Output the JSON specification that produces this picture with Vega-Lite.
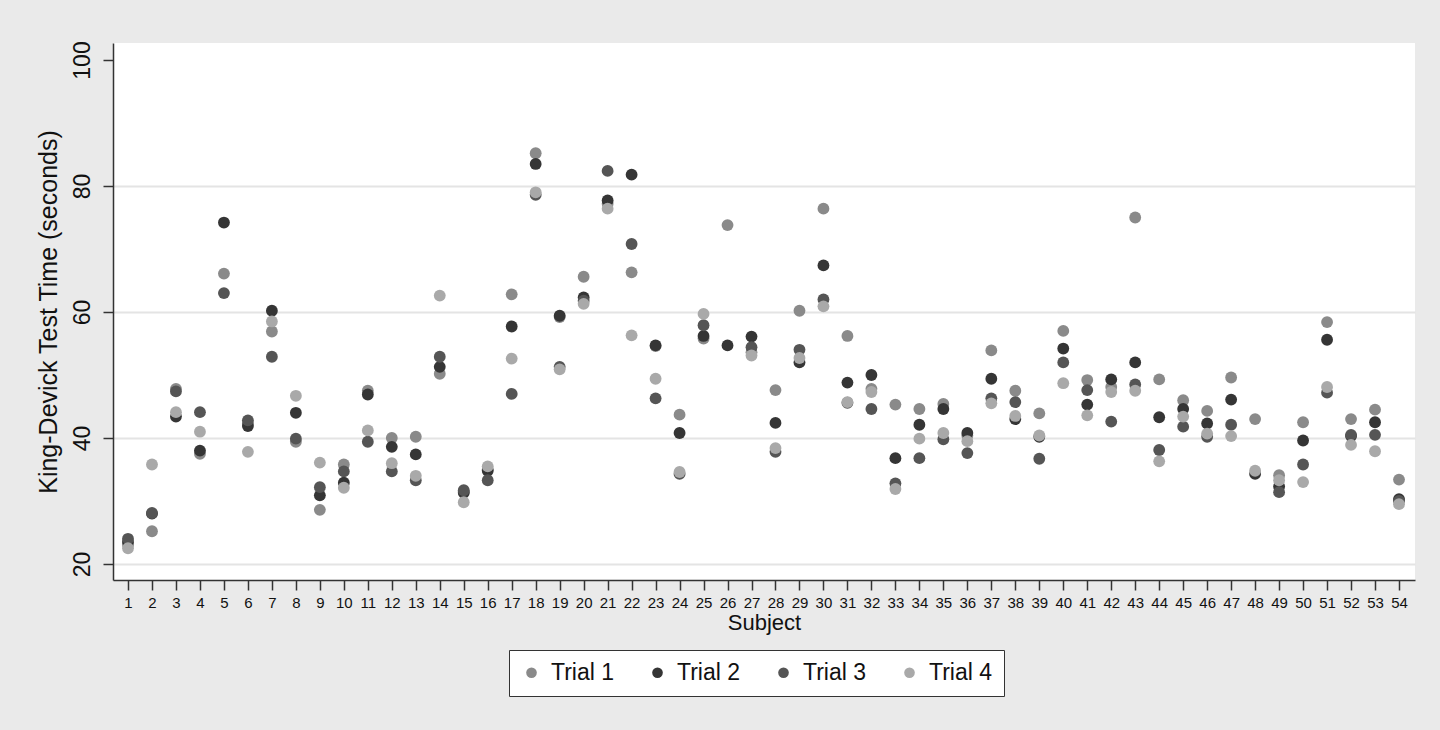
{
  "$schema": "https://vega.github.io/schema/vega-lite/v6.json",
  "width": 1302,
  "height": 537,
  "autosize": {"type": "none"},
  "padding": {"left": 113, "top": 43, "right": 25, "bottom": 150},
  "background": "#eaeaea",
  "config": {
    "font": "Liberation Sans",
    "view": {"fill": "white", "stroke": null},
    "axis": {"labelColor": "#111", "titleColor": "#111", "titleFontWeight": "normal", "domainColor": "#333", "domainWidth": 1.5, "tickColor": "#333", "tickWidth": 1.5, "tickSize": 10}
  },
  "datasets": {
    "kd": [
      {"s":1,"t":"Trial 1","v":23.0},{"s":2,"t":"Trial 1","v":25.2},{"s":3,"t":"Trial 1","v":47.8},{"s":4,"t":"Trial 1","v":37.5},{"s":5,"t":"Trial 1","v":66.1},{"s":6,"t":"Trial 1","v":42.3},{"s":7,"t":"Trial 1","v":56.9},{"s":8,"t":"Trial 1","v":39.4},{"s":9,"t":"Trial 1","v":28.6},{"s":10,"t":"Trial 1","v":35.8},
      {"s":11,"t":"Trial 1","v":47.5},{"s":12,"t":"Trial 1","v":40.0},{"s":13,"t":"Trial 1","v":40.2},{"s":14,"t":"Trial 1","v":50.2},{"s":15,"t":"Trial 1","v":31.5},{"s":16,"t":"Trial 1","v":35.0},{"s":17,"t":"Trial 1","v":62.8},{"s":18,"t":"Trial 1","v":85.2},{"s":19,"t":"Trial 1","v":59.2},{"s":20,"t":"Trial 1","v":65.6},
      {"s":21,"t":"Trial 1","v":77.2},{"s":22,"t":"Trial 1","v":66.3},{"s":23,"t":"Trial 1","v":54.6},{"s":24,"t":"Trial 1","v":43.7},{"s":25,"t":"Trial 1","v":55.8},{"s":26,"t":"Trial 1","v":73.8},{"s":27,"t":"Trial 1","v":53.6},{"s":28,"t":"Trial 1","v":47.6},{"s":29,"t":"Trial 1","v":60.2},{"s":30,"t":"Trial 1","v":76.4},
      {"s":31,"t":"Trial 1","v":56.2},{"s":32,"t":"Trial 1","v":47.8},{"s":33,"t":"Trial 1","v":45.3},{"s":34,"t":"Trial 1","v":44.6},{"s":35,"t":"Trial 1","v":45.4},{"s":36,"t":"Trial 1","v":40.4},{"s":37,"t":"Trial 1","v":53.9},{"s":38,"t":"Trial 1","v":47.5},{"s":39,"t":"Trial 1","v":43.9},{"s":40,"t":"Trial 1","v":57.0},
      {"s":41,"t":"Trial 1","v":49.2},{"s":42,"t":"Trial 1","v":48.1},{"s":43,"t":"Trial 1","v":75.0},{"s":44,"t":"Trial 1","v":49.3},{"s":45,"t":"Trial 1","v":46.0},{"s":46,"t":"Trial 1","v":44.3},{"s":47,"t":"Trial 1","v":49.6},{"s":48,"t":"Trial 1","v":43.0},{"s":49,"t":"Trial 1","v":34.1},{"s":50,"t":"Trial 1","v":42.5},
      {"s":51,"t":"Trial 1","v":58.4},{"s":52,"t":"Trial 1","v":43.0},{"s":53,"t":"Trial 1","v":44.5},{"s":54,"t":"Trial 1","v":33.4},

      {"s":1,"t":"Trial 2","v":23.5},{"s":2,"t":"Trial 2","v":28.0},{"s":3,"t":"Trial 2","v":43.4},{"s":4,"t":"Trial 2","v":38.0},{"s":5,"t":"Trial 2","v":74.2},{"s":6,"t":"Trial 2","v":41.9},{"s":7,"t":"Trial 2","v":60.2},{"s":8,"t":"Trial 2","v":44.0},{"s":9,"t":"Trial 2","v":30.9},{"s":10,"t":"Trial 2","v":32.9},
      {"s":11,"t":"Trial 2","v":46.9},{"s":12,"t":"Trial 2","v":38.6},{"s":13,"t":"Trial 2","v":37.4},{"s":14,"t":"Trial 2","v":51.3},{"s":15,"t":"Trial 2","v":31.3},{"s":16,"t":"Trial 2","v":34.8},{"s":17,"t":"Trial 2","v":57.7},{"s":18,"t":"Trial 2","v":83.5},{"s":19,"t":"Trial 2","v":59.4},{"s":20,"t":"Trial 2","v":62.3},
      {"s":21,"t":"Trial 2","v":77.7},{"s":22,"t":"Trial 2","v":81.8},{"s":23,"t":"Trial 2","v":54.7},{"s":24,"t":"Trial 2","v":40.8},{"s":25,"t":"Trial 2","v":56.2},{"s":26,"t":"Trial 2","v":54.7},{"s":27,"t":"Trial 2","v":56.1},{"s":28,"t":"Trial 2","v":42.4},{"s":29,"t":"Trial 2","v":52.0},{"s":30,"t":"Trial 2","v":67.4},
      {"s":31,"t":"Trial 2","v":48.8},{"s":32,"t":"Trial 2","v":50.0},{"s":33,"t":"Trial 2","v":36.8},{"s":34,"t":"Trial 2","v":42.1},{"s":35,"t":"Trial 2","v":44.6},{"s":36,"t":"Trial 2","v":40.8},{"s":37,"t":"Trial 2","v":49.4},{"s":38,"t":"Trial 2","v":43.0},{"s":39,"t":"Trial 2","v":40.2},{"s":40,"t":"Trial 2","v":54.2},
      {"s":41,"t":"Trial 2","v":45.3},{"s":42,"t":"Trial 2","v":49.3},{"s":43,"t":"Trial 2","v":52.0},{"s":44,"t":"Trial 2","v":43.3},{"s":45,"t":"Trial 2","v":44.6},{"s":46,"t":"Trial 2","v":42.3},{"s":47,"t":"Trial 2","v":46.1},{"s":48,"t":"Trial 2","v":34.3},{"s":49,"t":"Trial 2","v":32.3},{"s":50,"t":"Trial 2","v":39.6},
      {"s":51,"t":"Trial 2","v":55.6},{"s":52,"t":"Trial 2","v":40.3},{"s":53,"t":"Trial 2","v":42.5},{"s":54,"t":"Trial 2","v":30.3},

      {"s":1,"t":"Trial 3","v":24.0},{"s":2,"t":"Trial 3","v":28.1},{"s":3,"t":"Trial 3","v":47.4},{"s":4,"t":"Trial 3","v":44.1},{"s":5,"t":"Trial 3","v":63.0},{"s":6,"t":"Trial 3","v":42.8},{"s":7,"t":"Trial 3","v":52.9},{"s":8,"t":"Trial 3","v":39.9},{"s":9,"t":"Trial 3","v":32.2},{"s":10,"t":"Trial 3","v":34.7},
      {"s":11,"t":"Trial 3","v":39.4},{"s":12,"t":"Trial 3","v":34.7},{"s":13,"t":"Trial 3","v":33.3},{"s":14,"t":"Trial 3","v":52.9},{"s":15,"t":"Trial 3","v":31.7},{"s":16,"t":"Trial 3","v":33.3},{"s":17,"t":"Trial 3","v":47.0},{"s":18,"t":"Trial 3","v":78.6},{"s":19,"t":"Trial 3","v":51.3},{"s":20,"t":"Trial 3","v":61.8},
      {"s":21,"t":"Trial 3","v":82.4},{"s":22,"t":"Trial 3","v":70.8},{"s":23,"t":"Trial 3","v":46.3},{"s":24,"t":"Trial 3","v":34.3},{"s":25,"t":"Trial 3","v":57.9},{"s":27,"t":"Trial 3","v":54.4},{"s":28,"t":"Trial 3","v":37.8},{"s":29,"t":"Trial 3","v":54.0},{"s":30,"t":"Trial 3","v":62.0},
      {"s":31,"t":"Trial 3","v":45.6},{"s":32,"t":"Trial 3","v":44.6},{"s":33,"t":"Trial 3","v":32.8},{"s":34,"t":"Trial 3","v":36.8},{"s":35,"t":"Trial 3","v":39.8},{"s":36,"t":"Trial 3","v":37.6},{"s":37,"t":"Trial 3","v":46.3},{"s":38,"t":"Trial 3","v":45.7},{"s":39,"t":"Trial 3","v":36.7},{"s":40,"t":"Trial 3","v":52.0},
      {"s":41,"t":"Trial 3","v":47.6},{"s":42,"t":"Trial 3","v":42.6},{"s":43,"t":"Trial 3","v":48.5},{"s":44,"t":"Trial 3","v":38.1},{"s":45,"t":"Trial 3","v":41.8},{"s":46,"t":"Trial 3","v":40.2},{"s":47,"t":"Trial 3","v":42.1},{"s":49,"t":"Trial 3","v":31.4},{"s":50,"t":"Trial 3","v":35.8},
      {"s":51,"t":"Trial 3","v":47.2},{"s":52,"t":"Trial 3","v":40.5},{"s":53,"t":"Trial 3","v":40.5},{"s":54,"t":"Trial 3","v":30.0},

      {"s":1,"t":"Trial 4","v":22.5},{"s":2,"t":"Trial 4","v":35.8},{"s":3,"t":"Trial 4","v":44.1},{"s":4,"t":"Trial 4","v":41.0},{"s":6,"t":"Trial 4","v":37.8},{"s":7,"t":"Trial 4","v":58.5},{"s":8,"t":"Trial 4","v":46.7},{"s":9,"t":"Trial 4","v":36.1},{"s":10,"t":"Trial 4","v":32.1},
      {"s":11,"t":"Trial 4","v":41.2},{"s":12,"t":"Trial 4","v":36.0},{"s":13,"t":"Trial 4","v":34.0},{"s":14,"t":"Trial 4","v":62.6},{"s":15,"t":"Trial 4","v":29.8},{"s":16,"t":"Trial 4","v":35.5},{"s":17,"t":"Trial 4","v":52.6},{"s":18,"t":"Trial 4","v":79.0},{"s":19,"t":"Trial 4","v":50.9},{"s":20,"t":"Trial 4","v":61.3},
      {"s":21,"t":"Trial 4","v":76.4},{"s":22,"t":"Trial 4","v":56.3},{"s":23,"t":"Trial 4","v":49.4},{"s":24,"t":"Trial 4","v":34.6},{"s":25,"t":"Trial 4","v":59.7},{"s":27,"t":"Trial 4","v":53.1},{"s":28,"t":"Trial 4","v":38.4},{"s":29,"t":"Trial 4","v":52.7},{"s":30,"t":"Trial 4","v":60.9},
      {"s":31,"t":"Trial 4","v":45.7},{"s":32,"t":"Trial 4","v":47.3},{"s":33,"t":"Trial 4","v":31.9},{"s":34,"t":"Trial 4","v":39.9},{"s":35,"t":"Trial 4","v":40.8},{"s":36,"t":"Trial 4","v":39.5},{"s":37,"t":"Trial 4","v":45.5},{"s":38,"t":"Trial 4","v":43.5},{"s":39,"t":"Trial 4","v":40.4},{"s":40,"t":"Trial 4","v":48.7},
      {"s":41,"t":"Trial 4","v":43.6},{"s":42,"t":"Trial 4","v":47.3},{"s":43,"t":"Trial 4","v":47.5},{"s":44,"t":"Trial 4","v":36.3},{"s":45,"t":"Trial 4","v":43.4},{"s":46,"t":"Trial 4","v":40.7},{"s":47,"t":"Trial 4","v":40.3},{"s":48,"t":"Trial 4","v":34.8},{"s":49,"t":"Trial 4","v":33.3},{"s":50,"t":"Trial 4","v":33.0},
      {"s":51,"t":"Trial 4","v":48.1},{"s":52,"t":"Trial 4","v":38.9},{"s":53,"t":"Trial 4","v":37.9},{"s":54,"t":"Trial 4","v":29.5}
    ]
  },
  "data": {"name": "kd"},
  "mark": {"type": "point", "filled": true, "opacity": 1, "size": 140, "shape": "circle"},
  "encoding": {
    "x": {
      "field": "s", "type": "quantitative",
      "scale": {"domain": [0.3745, 54.667], "nice": false, "zero": false},
      "axis": {
        "values": [1,2,3,4,5,6,7,8,9,10,11,12,13,14,15,16,17,18,19,20,21,22,23,24,25,26,27,28,29,30,31,32,33,34,35,36,37,38,39,40,41,42,43,44,45,46,47,48,49,50,51,52,53,54],
        "grid": false, "labelFontSize": 15, "labelPadding": 5, "labelOverlap": false, "labelFlush": false,
        "title": "Subject", "titleFontSize": 22, "titlePadding": 2
      }
    },
    "y": {
      "field": "v", "type": "quantitative",
      "scale": {"domain": [17.46, 102.7], "nice": false, "zero": false},
      "axis": {
        "values": [20, 40, 60, 80, 100],
        "grid": true, "gridColor": "#e4e4e4", "gridWidth": 2,
        "gridOpacity": {"condition": {"test": "datum.value == 100", "value": 0}, "value": 1},
        "labelFontSize": 23, "labelAngle": 270, "labelAlign": "center", "labelBaseline": "bottom", "labelPadding": 9,
        "title": "King-Devick Test Time (seconds)", "titleFontSize": 25, "titlePadding": 10
      }
    },
    "color": {
      "field": "t", "type": "nominal",
      "scale": {"domain": ["Trial 1", "Trial 2", "Trial 3", "Trial 4"], "range": ["#8a8a8a", "#353535", "#555555", "#a9a9a9"]},
      "legend": {
        "title": null, "orient": "none", "legendX": 396, "legendY": 607,
        "direction": "horizontal", "columns": 4,
        "symbolType": "circle", "symbolSize": 113, "symbolStrokeWidth": 0,
        "labelFontSize": 23, "labelColor": "#111", "labelOffset": 8, "columnPadding": 31,
        "padding": 11, "strokeColor": "#333", "fillColor": "white", "cornerRadius": 0
      }
    }
  }
}
